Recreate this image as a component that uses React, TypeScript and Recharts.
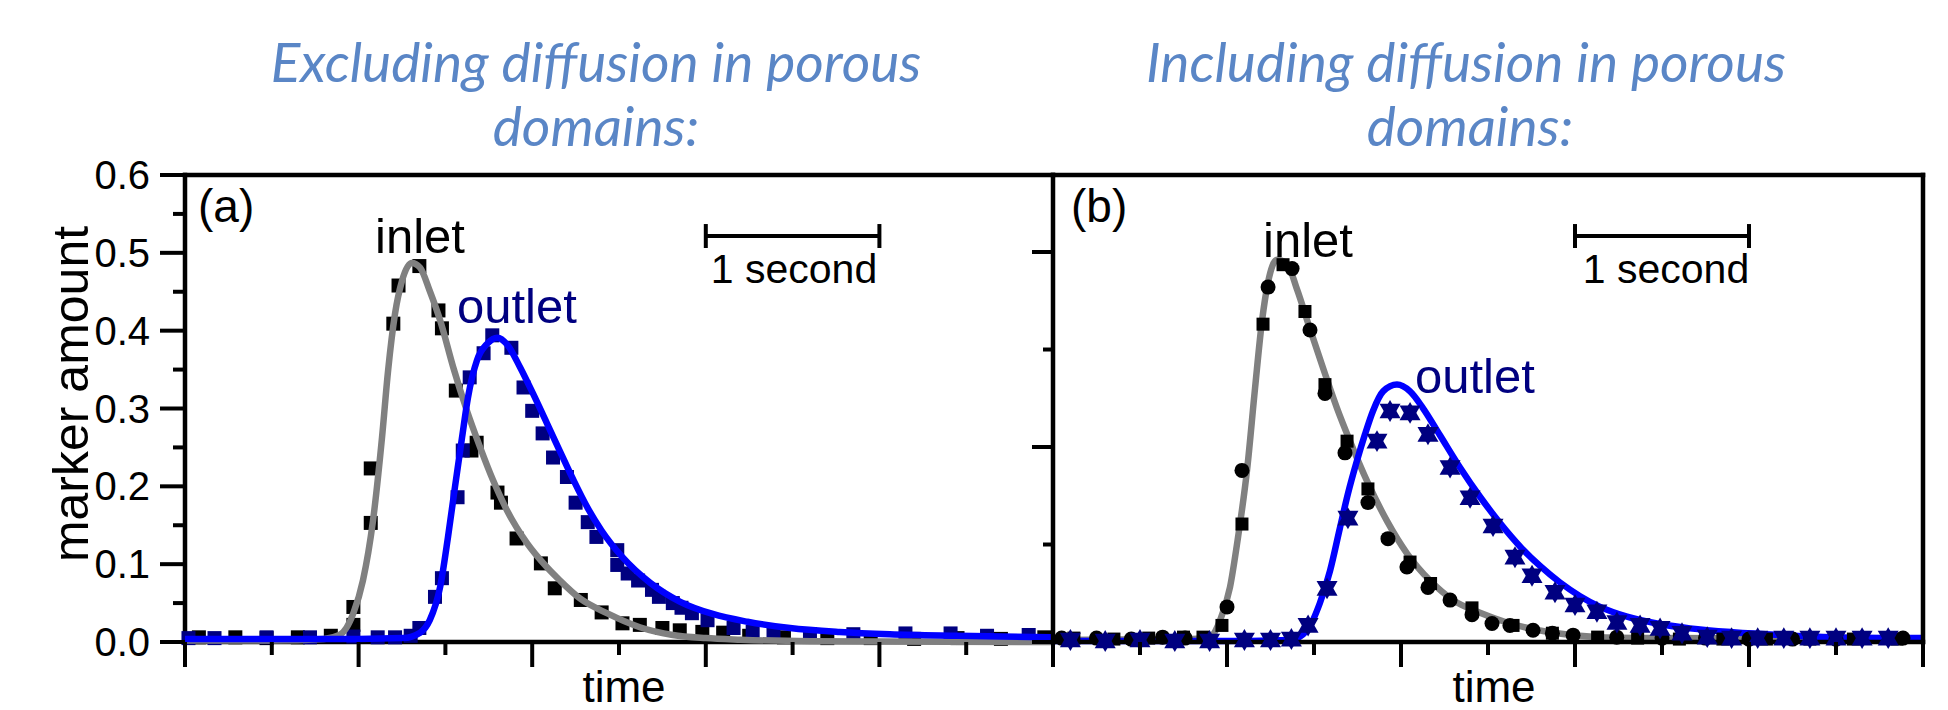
import React from 'react'
import { ComposedChart, Line, Scatter, XAxis, YAxis, ReferenceLine } from 'recharts'

// time axis in seconds, one major tick per second
const timeTicks = [0, 0.5, 1, 1.5, 2, 2.5, 3, 3.5, 4, 4.5, 5]
const yTicksA = [0, 0.05, 0.1, 0.15, 0.2, 0.25, 0.3, 0.35, 0.4, 0.45, 0.5, 0.55, 0.6]
const yTicksB = [0, 0.1, 0.2, 0.3, 0.4]

// panel (a): excluding diffusion in porous domains  [time, amount]
const inletPtsA = [
  [0.08, 0.006], [0.29, 0.006], [0.47, 0.005], [0.65, 0.006], [0.84, 0.008], [0.97, 0.022], [0.97, 0.045],
  [1.07, 0.153], [1.07, 0.223], [1.2, 0.409], [1.23, 0.458], [1.35, 0.483], [1.46, 0.426], [1.48, 0.403],
  [1.56, 0.323], [1.65, 0.246], [1.68, 0.256], [1.8, 0.192], [1.82, 0.179], [1.91, 0.133], [2.05, 0.101],
  [2.13, 0.069], [2.28, 0.054], [2.4, 0.038], [2.52, 0.024], [2.62, 0.022], [2.75, 0.018], [2.85, 0.015],
  [2.98, 0.013], [3.1, 0.012], [3.25, 0.008], [3.45, 0.006], [3.7, 0.005], [3.95, 0.005], [4.2, 0.004],
  [4.45, 0.005], [4.7, 0.004], [4.95, 0.006],
]
const outletPtsA = [
  [0.02, 0.005], [0.17, 0.005], [0.47, 0.006], [0.72, 0.006], [0.97, 0.007], [1.11, 0.006], [1.21, 0.006],
  [1.3, 0.008], [1.35, 0.018], [1.44, 0.058], [1.48, 0.082], [1.57, 0.186], [1.6, 0.246], [1.64, 0.34],
  [1.72, 0.371], [1.77, 0.394], [1.88, 0.378], [1.95, 0.327], [2.0, 0.297], [2.06, 0.268], [2.12, 0.237],
  [2.2, 0.212], [2.25, 0.179], [2.32, 0.154], [2.37, 0.135], [2.49, 0.118], [2.49, 0.099], [2.55, 0.088],
  [2.61, 0.079], [2.69, 0.067], [2.73, 0.058], [2.81, 0.05], [2.86, 0.044], [2.92, 0.037], [3.01, 0.028],
  [3.16, 0.018], [3.27, 0.013], [3.39, 0.012], [3.6, 0.01], [3.85, 0.01], [4.15, 0.011], [4.41, 0.011],
  [4.62, 0.008], [4.86, 0.009],
]
const inletFitA = [
  [0, 0.002], [0.5, 0.002], [0.8, 0.004], [0.89, 0.009], [0.97, 0.037], [1.025, 0.079], [1.083, 0.156],
  [1.135, 0.263], [1.17, 0.349], [1.21, 0.422], [1.25, 0.464], [1.307, 0.487], [1.354, 0.481], [1.41, 0.451],
  [1.47, 0.413], [1.545, 0.353], [1.624, 0.297], [1.7, 0.25], [1.774, 0.208], [1.855, 0.169], [1.97, 0.127],
  [2.085, 0.096], [2.16, 0.079], [2.275, 0.056], [2.43, 0.037], [2.62, 0.019], [2.81, 0.009], [3.0, 0.005],
  [3.2, 0.003], [3.6, 0.001], [5, 0.0],
]
const outletFitA = [
  [0, 0.004], [1.0, 0.004], [1.256, 0.005], [1.354, 0.012], [1.41, 0.028], [1.47, 0.071], [1.515, 0.135],
  [1.555, 0.199], [1.596, 0.263], [1.63, 0.314], [1.682, 0.362], [1.74, 0.383], [1.8, 0.391], [1.86, 0.381],
  [1.93, 0.353], [2.005, 0.319], [2.085, 0.281], [2.16, 0.245], [2.24, 0.207], [2.32, 0.172], [2.4, 0.143],
  [2.52, 0.109], [2.68, 0.076], [2.85, 0.052], [3.04, 0.036], [3.24, 0.026], [3.485, 0.018], [3.77, 0.013],
  [4.06, 0.01], [4.45, 0.008], [5, 0.006],
]

// panel (b): including diffusion in porous domains  [time, amount]
const inletSquaresB = [
  [0.12, 0.004], [0.35, 0.003], [0.55, 0.004], [0.75, 0.005], [0.862, 0.005], [0.971, 0.017], [1.086, 0.121],
  [1.207, 0.326], [1.322, 0.387], [1.448, 0.339], [1.563, 0.264], [1.69, 0.206], [1.81, 0.157], [2.052, 0.082],
  [2.17, 0.06], [2.408, 0.035], [2.644, 0.017], [2.87, 0.009], [3.13, 0.005], [3.36, 0.004], [3.6, 0.003],
  [3.85, 0.003], [4.1, 0.003], [4.35, 0.003], [4.6, 0.003], [4.85, 0.003],
]
const inletCirclesB = [
  [0.05, 0.004], [0.25, 0.004], [0.45, 0.003], [0.63, 0.005], [0.759, 0.004], [1.0, 0.036], [1.086, 0.176],
  [1.236, 0.364], [1.374, 0.383], [1.477, 0.32], [1.563, 0.255], [1.678, 0.194], [1.81, 0.143], [1.925, 0.106],
  [2.034, 0.077], [2.155, 0.056], [2.282, 0.043], [2.408, 0.028], [2.523, 0.019], [2.626, 0.017], [2.759, 0.012],
  [2.87, 0.009], [2.989, 0.007], [3.24, 0.005], [3.5, 0.004], [3.75, 0.004], [4.0, 0.003], [4.25, 0.003],
  [4.5, 0.003], [4.885, 0.004],
]
const outletTrianglesB = [
  [0.1, 0.002], [0.3, 0.001], [0.5, 0.002], [0.7, 0.001], [0.9, 0.001], [1.1, 0.002], [1.25, 0.002],
  [1.37, 0.003], [1.466, 0.017], [1.575, 0.055], [1.695, 0.127], [1.862, 0.206], [1.937, 0.237], [2.052, 0.235],
  [2.155, 0.213], [2.282, 0.179], [2.397, 0.148], [2.529, 0.119], [2.655, 0.087], [2.753, 0.068], [2.885, 0.051],
  [3.0, 0.038], [3.126, 0.031], [3.241, 0.02], [3.374, 0.017], [3.489, 0.014], [3.615, 0.009], [3.76, 0.005],
  [3.9, 0.004], [4.05, 0.004], [4.2, 0.004], [4.35, 0.004], [4.5, 0.004], [4.65, 0.004], [4.8, 0.004],
]
const inletFitB = [
  [0, 0.002], [0.8, 0.003], [0.902, 0.005], [0.96, 0.022], [1.017, 0.056], [1.063, 0.107], [1.115, 0.176],
  [1.161, 0.26], [1.201, 0.329], [1.236, 0.369], [1.287, 0.392], [1.345, 0.388], [1.402, 0.362], [1.477, 0.321],
  [1.552, 0.281], [1.632, 0.24], [1.707, 0.206], [1.805, 0.165], [1.92, 0.124], [2.034, 0.091], [2.167, 0.063],
  [2.299, 0.043], [2.454, 0.03], [2.609, 0.02], [2.856, 0.01], [3.144, 0.005], [3.529, 0.004], [5, 0.003],
]
const outletFitB = [
  [0, 0.001], [1.0, 0.001], [1.362, 0.002], [1.46, 0.012], [1.534, 0.04], [1.592, 0.073], [1.649, 0.117],
  [1.695, 0.152], [1.747, 0.186], [1.793, 0.213], [1.839, 0.237], [1.897, 0.257], [1.977, 0.264], [2.052, 0.257],
  [2.126, 0.24], [2.224, 0.212], [2.339, 0.179], [2.454, 0.149], [2.569, 0.122], [2.684, 0.098], [2.799, 0.078],
  [2.914, 0.061], [3.029, 0.047], [3.144, 0.036], [3.299, 0.026], [3.471, 0.019], [3.661, 0.014], [3.908, 0.01],
  [4.195, 0.007], [4.483, 0.005], [5, 0.004],
]

// "1 second" scale bar, from 3 s to 4 s
const scaleBarA = { from: 3, to: 4, level: 0.5216, cap: 0.0154 }
const scaleBarB = { from: 3, to: 4, level: 0.4164, cap: 0.0123 }

const toPts = (rows: number[][]) => rows.map(([t, v]) => ({ t, v }))

const FONT = '"Liberation Sans", Arial, sans-serif'
const TITLE_FONT = 'Lato, "Open Sans", sans-serif'
const NAVY = '#000080'
const axisLine = { stroke: '#000', strokeWidth: 4.5, strokeLinecap: 'square' as const }

const isMajorTime = (v: number) => Number.isInteger(v)

// bottom ticks point out, top ticks point in: both go downwards
function TimeTick({ x, y, payload }: any) {
  const len = isMajorTime(payload.value) ? 25 : 13
  return <line x1={x} x2={x} y1={y} y2={y + len} stroke="#000" strokeWidth={4} />
}

function AmountTickA({ x, y, payload }: any) {
  const v = payload.value
  const major = Math.round(v * 100) % 10 === 0
  return (
    <g>
      <line x1={x - (major ? 25 : 12)} x2={x} y1={y} y2={y} stroke="#000" strokeWidth={4} />
      {major && (
        <text x={x - 35} y={y} dy={14} textAnchor="end" fontSize={40} fontFamily={FONT} fill="#000">
          {v.toFixed(1)}
        </text>
      )}
    </g>
  )
}

// panel (b) ticks on both sides are drawn to the left of the axis line
function AmountTickB({ x, y, payload }: any) {
  const major = Math.round(payload.value * 10) % 2 === 0
  return <line x1={x - (major ? 21 : 10)} x2={x} y1={y} y2={y} stroke="#000" strokeWidth={4} />
}

const square = (size: number, fill: string) => (p: any) => (
  <rect x={p.cx - size / 2} y={p.cy - size / 2} width={size} height={size} fill={fill} />
)
const circle = (r: number, fill: string) => (p: any) => <circle cx={p.cx} cy={p.cy} r={r} fill={fill} />
const triangle = (w: number, up: boolean, fill: string) => (p: any) => {
  const h = w * 0.87
  const s = up ? 1 : -1
  const pts = `${p.cx},${p.cy - s * h * 0.6} ${p.cx - w / 2},${p.cy + s * h * 0.4} ${p.cx + w / 2},${p.cy + s * h * 0.4}`
  return <polygon points={pts} fill={fill} />
}

function PanelA() {
  return (
    <ComposedChart width={1060} height={710} margin={{ top: 0, right: 7, bottom: 0, left: 0 }}>
      <XAxis xAxisId="top" orientation="top" type="number" domain={[0, 5]} ticks={timeTicks} interval={0}
        height={175} tickSize={0} tickMargin={0} tickLine={false} axisLine={axisLine} tick={<TimeTick />} />
      <XAxis dataKey="t" type="number" domain={[0, 5]} ticks={timeTicks} interval={0}
        height={68} tickSize={0} tickMargin={0} tickLine={false} axisLine={axisLine} tick={<TimeTick />} />
      <YAxis dataKey="v" type="number" domain={[0, 0.6]} ticks={yTicksA} interval={0}
        width={185} tickSize={0} tickMargin={0} tickLine={false} axisLine={axisLine} tick={<AmountTickA />} />
      <ReferenceLine segment={[{ x: scaleBarA.from, y: scaleBarA.level }, { x: scaleBarA.to, y: scaleBarA.level }]} stroke="#000" strokeWidth={4} />
      <ReferenceLine segment={[{ x: scaleBarA.from, y: scaleBarA.level - scaleBarA.cap }, { x: scaleBarA.from, y: scaleBarA.level + scaleBarA.cap }]} stroke="#000" strokeWidth={4} />
      <ReferenceLine segment={[{ x: scaleBarA.to, y: scaleBarA.level - scaleBarA.cap }, { x: scaleBarA.to, y: scaleBarA.level + scaleBarA.cap }]} stroke="#000" strokeWidth={4} />
      <Scatter data={toPts(inletPtsA)} shape={square(14, '#000')} isAnimationActive={false} />
      <Scatter data={toPts(outletPtsA)} shape={square(14, NAVY)} isAnimationActive={false} />
      <Line data={toPts(inletFitA)} dataKey="v" type="monotone" stroke="#808080" strokeWidth={6.5}
        dot={false} activeDot={false} isAnimationActive={false} zIndex={700} />
      <Line data={toPts(outletFitA)} dataKey="v" type="monotone" stroke="#0000ff" strokeWidth={6.5}
        dot={false} activeDot={false} isAnimationActive={false} zIndex={710} />
    </ComposedChart>
  )
}

function PanelB() {
  return (
    <ComposedChart width={948} height={710} margin={{ top: 0, right: 0, bottom: 0, left: 0 }}>
      <XAxis xAxisId="top" orientation="top" type="number" domain={[0, 5]} ticks={timeTicks} interval={0}
        height={175} tickSize={0} tickMargin={0} tickLine={false} axisLine={axisLine} tick={<TimeTick />} />
      <XAxis dataKey="t" type="number" domain={[0, 5]} ticks={timeTicks} interval={0}
        height={68} tickSize={0} tickMargin={0} tickLine={false} axisLine={axisLine} tick={<TimeTick />} />
      <YAxis dataKey="v" type="number" domain={[0, 0.479]} ticks={yTicksB} interval={0}
        width={53} tickSize={0} tickMargin={0} tickLine={false} axisLine={axisLine} tick={<AmountTickB />} />
      <YAxis yAxisId="r" orientation="right" type="number" domain={[0, 0.479]} ticks={yTicksB} interval={0}
        width={25} tickSize={0} tickMargin={0} tickLine={false} axisLine={axisLine} tick={<AmountTickB />} />
      <ReferenceLine segment={[{ x: scaleBarB.from, y: scaleBarB.level }, { x: scaleBarB.to, y: scaleBarB.level }]} stroke="#000" strokeWidth={4} />
      <ReferenceLine segment={[{ x: scaleBarB.from, y: scaleBarB.level - scaleBarB.cap }, { x: scaleBarB.from, y: scaleBarB.level + scaleBarB.cap }]} stroke="#000" strokeWidth={4} />
      <ReferenceLine segment={[{ x: scaleBarB.to, y: scaleBarB.level - scaleBarB.cap }, { x: scaleBarB.to, y: scaleBarB.level + scaleBarB.cap }]} stroke="#000" strokeWidth={4} />
      <Line data={toPts(inletFitB)} dataKey="v" type="monotone" stroke="#808080" strokeWidth={6.5}
        dot={false} activeDot={false} isAnimationActive={false} />
      <Line data={toPts(outletFitB)} dataKey="v" type="monotone" stroke="#0000ff" strokeWidth={6.5}
        dot={false} activeDot={false} isAnimationActive={false} />
      <Scatter data={toPts(inletSquaresB)} shape={square(13, '#000')} isAnimationActive={false} />
      <Scatter data={toPts(inletCirclesB)} shape={circle(7.5, '#000')} isAnimationActive={false} />
      <Scatter data={toPts(outletTrianglesB)} shape={triangle(21, true, NAVY)} isAnimationActive={false} />
      <Scatter data={toPts(outletTrianglesB)} shape={triangle(21, false, NAVY)} isAnimationActive={false} />
    </ComposedChart>
  )
}

function Texts() {
  const title = { fontFamily: TITLE_FONT, fontStyle: 'italic', fontSize: 55, fill: '#5a86c6', textAnchor: 'middle' as const }
  const lbl = { fontFamily: FONT, fill: '#000' }
  return (
    <svg width={1948} height={710} style={{ position: 'absolute', left: 0, top: 0, pointerEvents: 'none' }}>
      <text x={596} y={82} {...title}>Excluding diffusion in porous</text>
      <text x={596} y={146} {...title}>domains:</text>
      <text x={1466} y={82} {...title}>Including diffusion in porous</text>
      <text x={1470} y={146} {...title}>domains:</text>

      <text x={88} y={394} transform="rotate(-90 88 394)" textAnchor="middle" fontSize={50} {...lbl}>marker amount</text>
      <text x={624} y={702} textAnchor="middle" fontSize={44} {...lbl}>time</text>
      <text x={1494} y={702} textAnchor="middle" fontSize={44} {...lbl}>time</text>

      <text x={198} y={222} fontSize={46} {...lbl}>(a)</text>
      <text x={1071} y={222} fontSize={46} {...lbl}>(b)</text>
      <text x={375} y={253} fontSize={49} {...lbl}>inlet</text>
      <text x={457} y={323} fontSize={49} fontFamily={FONT} fill={NAVY}>outlet</text>
      <text x={1263} y={257} fontSize={49} {...lbl}>inlet</text>
      <text x={1415} y={393} fontSize={49} fontFamily={FONT} fill={NAVY}>outlet</text>
      <text x={794} y={283} textAnchor="middle" fontSize={41} {...lbl}>1 second</text>
      <text x={1666} y={283} textAnchor="middle" fontSize={41} {...lbl}>1 second</text>
    </svg>
  )
}

export default function App() {
  return (
    <div style={{ position: 'absolute', left: 0, top: 0, width: 1948, height: 710, background: '#fff', overflow: 'hidden' }}>
      <div style={{ position: 'absolute', left: 0, top: 0 }}>
        <PanelA />
      </div>
      <div style={{ position: 'absolute', left: 1000, top: 0 }}>
        <PanelB />
      </div>
      <Texts />
    </div>
  )
}
